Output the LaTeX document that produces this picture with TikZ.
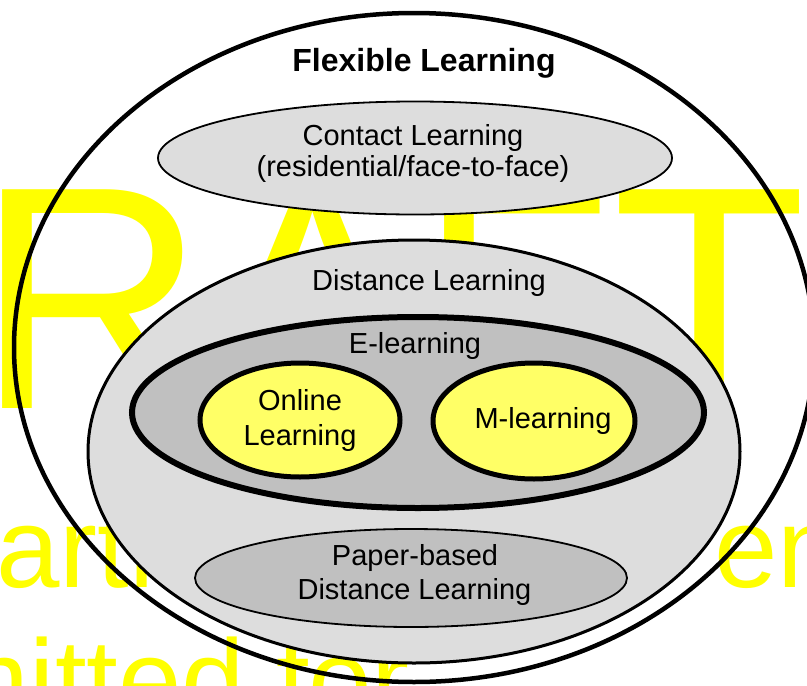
\documentclass[tikz,border=0pt]{standalone}
\usepackage{fontspec}
\setmainfont{Liberation Sans}
\newfontfamily\wmfont[Kerning=Off]{Liberation Sans}
\usetikzlibrary{shapes.geometric}
\definecolor{wmyellow}{HTML}{FFFF00}
\definecolor{lightg}{HTML}{DDDDDD}
\definecolor{midg}{HTML}{C0C0C0}
\definecolor{softy}{HTML}{FFFF66}
\tikzset{
  oval/.style={ellipse, inner sep=0pt, outer sep=0pt, draw=black},
  lbl/.style={anchor=base, inner sep=0pt, outer sep=0pt, font=\fontsize{29}{31}\selectfont},
  wm/.style={anchor=base west, inner sep=0pt, outer sep=0pt, text=wmyellow}
}
\begin{document}
\begin{tikzpicture}[x=1pt,y=-1pt]
\useasboundingbox (0,0) rectangle (807,686);
\clip (0,0) rectangle (807,686);
\fill[white] (0,0) rectangle (807,686);
% watermark
\node[wm, font=\wmfont\fontsize{318}{318}\selectfont] (wm1) at (-253,408) {DRAFT};
\node[wm, font=\wmfont\fontsize{114}{114}\selectfont] (wm2) at (-67,587) {parti};
\node[wm, font=\wmfont\fontsize{114}{114}\selectfont] (wm3) at (714,587) {ent};
\node[wm, font=\wmfont\fontsize{114}{114}\selectfont] (wm4) at (-249,719) {submitted for};
% ellipses
\node[oval, line width=4.5pt, minimum width=800pt, minimum height=669pt] (flex) at (414,347.5) {};
\node[oval, fill=lightg, line width=1.8pt, minimum width=514pt, minimum height=113pt] (contact) at (415,158) {};
\node[oval, fill=lightg, line width=3pt, minimum width=652pt, minimum height=423pt] (dist) at (414,451.5) {};
\node[oval, fill=midg, line width=6pt, minimum width=572pt, minimum height=191pt] (elearn) at (418,412.5) {};
\node[oval, fill=softy, line width=5pt, minimum width=200pt, minimum height=114pt] (online) at (300,420) {};
\node[oval, fill=softy, line width=5pt, minimum width=202pt, minimum height=116pt] (mlearn) at (534,421) {};
\node[oval, fill=midg, line width=1.8pt, minimum width=432pt, minimum height=98pt] (paper) at (411,578) {};
% labels
\node[lbl, font=\bfseries\fontsize{32}{34}\selectfont] (tflex) at (424,71) {Flexible Learning};
\node[lbl] (tcon1) at (413,145) {Contact Learning};
\node[lbl] (tcon2) at (413,176) {(residential/face-to-face)};
\node[lbl] (tdist) at (429,290) {Distance Learning};
\node[lbl] (telearn) at (415,353) {E-learning};
\node[lbl] (ton1) at (300,410) {Online};
\node[lbl] (ton2) at (300,445) {Learning};
\node[lbl] (tm) at (543,428) {M-learning};
\node[lbl] (tpap1) at (415,565) {Paper-based};
\node[lbl] (tpap2) at (414.5,599) {Distance Learning};
\end{tikzpicture}
\end{document}
